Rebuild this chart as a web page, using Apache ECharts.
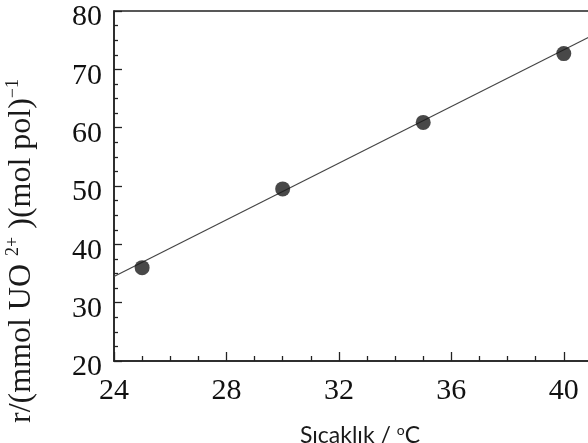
<!DOCTYPE html>
<html>
<head>
<meta charset="utf-8">
<script src="https://cdn.jsdelivr.net/npm/echarts@6/dist/echarts.min.js"></script>
<style>
    html, body { margin: 0; padding: 0; background: #fff; }
    #container { width: 588px; height: 443px; }
</style>
</head>
<body>
<div id="container"></div>
<script>
// 数据
var temperature = [25, 30, 35, 40];
var rate = [36.0, 49.5, 60.9, 72.7];
// 拟合直线 (读图两端)
var fitX = [24, 42];
var fitY = [34.5, 78.2];
var xTicks = [24, 28, 32, 36, 40];
var yTicks = [20, 30, 40, 50, 60, 70, 80];

var myChart = echarts.init(document.getElementById("container"));
var serif = '"Liberation Serif", "DejaVu Serif", serif';
var option = {
    backgroundColor: '#fff',
    animation: false,
    grid: {
        left: 114,
        top: 11,
        width: 506,
        height: 350,
        show: true,
        borderColor: '#222',
        borderWidth: 1.5,
        outerBoundsMode: 'none'
    },
    xAxis: {
        type: 'value',
        min: xTicks[0],
        max: 42,
        interval: 4,
        name: '{t|Sıcaklık / }{s|o}{t|C}',
        nameLocation: 'middle',
        nameGap: 62,
        nameTextStyle: {
            padding: [0, 14, 0, 0],
            rich: {
                t: { fontFamily: 'Lato, "Open Sans", sans-serif', fontSize: 23, color: '#1a1a1a', lineHeight: 26 },
                s: { fontFamily: 'Lato, "Open Sans", sans-serif', fontSize: 14, color: '#1a1a1a', verticalAlign: 'top', lineHeight: 26 }
            }
        },
        axisLine: { show: true, lineStyle: { color: '#222', width: 1.5 } },
        axisTick: { show: true, inside: true, length: 9, lineStyle: { color: '#222', width: 1.3 } },
        minorTick: { show: true, splitNumber: 4, length: 5, lineStyle: { color: '#222', width: 1.3 } },
        axisLabel: {
            showMaxLabel: false,
            margin: 15,
            fontFamily: serif,
            fontSize: 30,
            color: '#111'
        },
        splitLine: { show: false }
    },
    yAxis: {
        type: 'value',
        min: yTicks[0],
        max: yTicks[yTicks.length - 1],
        interval: 10,
        axisLine: { show: true, lineStyle: { color: '#222', width: 1.5 } },
        axisTick: { show: true, inside: true, length: 8, lineStyle: { color: '#222', width: 1.3 } },
        minorTick: { show: true, splitNumber: 4, length: 4, lineStyle: { color: '#222', width: 1.3 } },
        axisLabel: {
            margin: 12,
            verticalAlign: 'top',
            lineHeight: 13,
            fontFamily: serif,
            fontSize: 30,
            color: '#111'
        },
        splitLine: { show: false }
    },
    graphic: [
        {
            type: 'text',
            x: 22,
            y: 251,
            rotation: Math.PI / 2,
            style: {
                text: '{t|r/(mmol UO }{s|2+}{t| )(mol pol)}{s|−1}',
                align: 'center',
                verticalAlign: 'middle',
                rich: {
                    t: { fontFamily: serif, fontSize: 32, fill: '#1a1a1a', lineHeight: 36 },
                    s: { fontFamily: serif, fontSize: 18, fill: '#1a1a1a', verticalAlign: 'top', lineHeight: 36 }
                }
            }
        }
    ],
    series: [
        {
            type: 'line',
            data: fitX.map(function (x, i) { return [x, fitY[i]]; }),
            symbol: 'none',
            clip: true,
            lineStyle: { color: '#444', width: 1.2 },
            z: 2
        },
        {
            type: 'scatter',
            data: temperature.map(function (x, i) { return [x, rate[i]]; }),
            symbol: 'circle',
            symbolSize: 15,
            itemStyle: { color: '#1a1a1a' },
            z: 3
        }
    ]
};
myChart.setOption(option);
</script>
</body>
</html>
